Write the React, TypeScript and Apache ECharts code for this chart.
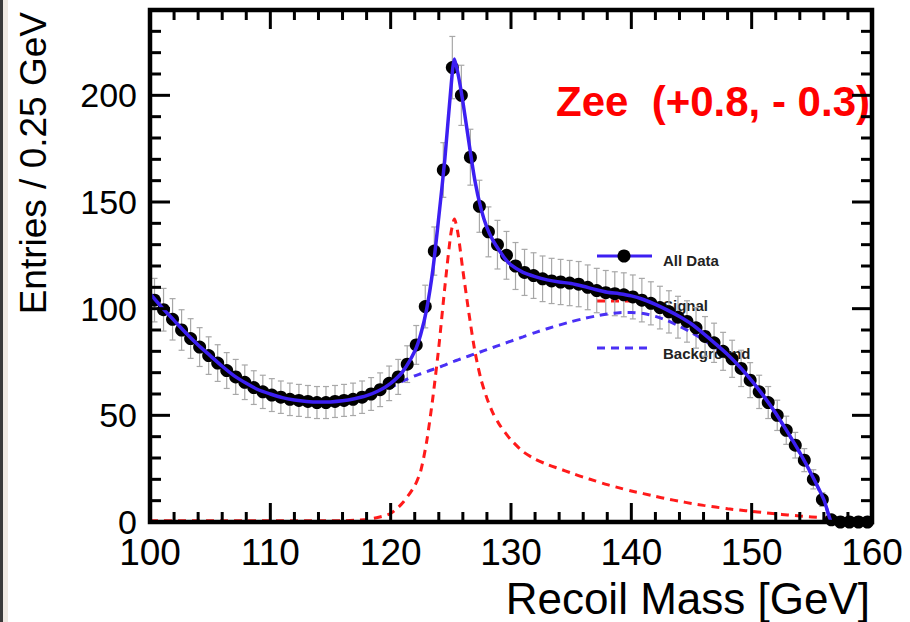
import React, { useEffect, useRef } from "react";
import * as echarts from "echarts";

// Histogram bin centres (GeV)
const binCenters = [
  100.375, 101.125, 101.875, 102.625, 103.375, 104.125, 104.875, 105.625, 106.375, 107.125,
  107.875, 108.625, 109.375, 110.125, 110.875, 111.625, 112.375, 113.125, 113.875, 114.625,
  115.375, 116.125, 116.875, 117.625, 118.375, 119.125, 119.875, 120.625, 121.375, 122.125,
  122.875, 123.625, 124.375, 125.125, 125.875, 126.625, 127.375, 128.125, 128.875, 129.625,
  130.375, 131.125, 131.875, 132.625, 133.375, 134.125, 134.875, 135.625, 136.375, 137.125,
  137.875, 138.625, 139.375, 140.125, 140.875, 141.625, 142.375, 143.125, 143.875, 144.625,
  145.375, 146.125, 146.875, 147.625, 148.375, 149.125, 149.875, 150.625, 151.375, 152.125,
  152.875, 153.625, 154.375, 155.125, 155.875, 156.625, 157.375, 158.125, 158.875, 159.625,
];

// "All Data" entries per bin
const entries = [
  104, 99.5, 95, 90, 86, 82, 78, 74.5, 71, 68,
  65.5, 63, 61, 59.5, 58.5, 57.5, 57, 56.5, 56, 56,
  56.5, 57, 57.5, 58.5, 60, 62, 65, 68, 74, 83,
  101, 127, 165, 213, 200, 171, 148, 136, 130, 125,
  120, 117, 115.5, 114, 113, 112.5, 112, 111.5, 110, 108.5,
  107.5, 107, 106.5, 105.5, 104, 102.5, 100.5, 98.5, 96, 94,
  91, 87, 84, 80, 76.5, 72, 66.5, 61, 56, 50,
  43, 36, 29, 20, 10.5, 1, 0, 0, 0, 0,
];

// statistical error per bin
const entryErrors = [
  10.2, 10.0, 9.7, 9.5, 9.3, 9.1, 8.8, 8.6, 8.4, 8.2,
  8.1, 7.9, 7.8, 7.7, 7.6, 7.6, 7.5, 7.5, 7.5, 7.5,
  7.5, 7.5, 7.6, 7.6, 7.7, 7.9, 8.1, 8.2, 8.6, 9.1,
  10.0, 11.3, 12.8, 14.6, 14.1, 13.1, 12.2, 11.7, 11.4, 11.2,
  11.0, 10.8, 10.7, 10.7, 10.6, 10.6, 10.6, 10.6, 10.5, 10.4,
  10.4, 10.3, 10.3, 10.3, 10.2, 10.1, 10.0, 9.9, 9.8, 9.7,
  9.5, 9.3, 9.2, 8.9, 8.7, 8.5, 8.2, 7.8, 7.5, 7.1,
  6.6, 6.0, 5.4, 4.5, 3.2, 1.0, 0, 0, 0, 0,
];

// fit curves sampled at these masses
const fitMass = [
  100, 101, 102, 103, 104, 105, 106, 107, 108, 109, 110, 111, 112, 113, 114, 115, 116, 117, 118, 119,
  120, 121, 122, 122.5, 123, 123.5, 124, 124.5, 125, 125.3, 125.6, 126, 126.5, 127, 127.5, 128, 128.5, 129, 129.5,
  130, 131, 132, 133, 134, 135, 136, 137, 138, 139, 140, 141, 142, 143, 144, 145, 146, 147, 148, 149,
  150, 151, 152, 153, 154, 155, 156, 156.7, 157,
];

const fitTotal = [
  107, 100.5, 94.5, 88.5, 83, 78, 73, 68.5, 65, 62, 60, 58.3, 57.2, 56.5, 56.2, 56.3, 56.8, 57.8, 59.2, 61.5,
  65, 70.5, 80, 88, 100, 118, 143, 170, 203, 217, 210, 197, 178, 160, 147, 138, 132, 127.5, 123.5,
  120.5, 117, 115, 113.5, 112.5, 111.8, 110.5, 109, 107.7, 107, 106, 104.3, 102, 99.3, 96.3, 92.8, 88.3, 83.5, 78.5, 72.8,
  66.3, 59, 51, 42, 32.5, 22, 10.5, 0, 0,
];

const fitSignal = [
  0.6, 0.6, 0.6, 0.6, 0.6, 0.6, 0.6, 0.6, 0.6, 0.6, 0.6, 0.6, 0.6, 0.6, 0.6, 0.6, 0.6, 0.8, 1.2, 2.2,
  4, 9, 17, 24, 38, 58, 82, 110, 135, 142, 135, 118, 98, 80, 67, 58, 51, 46, 42,
  38.5, 33, 29.5, 27, 25, 23, 21, 19.3, 17.5, 16, 14.5, 13.3, 12, 10.8, 9.7, 8.7, 7.8, 7, 6.2, 5.6,
  5, 4.4, 3.8, 3.3, 2.8, 2.4, 2, 1.7, 1.5,
];

const fitBackground = [
  106.4, 99.9, 93.9, 87.9, 82.4, 77.4, 72.4, 67.9, 64.4, 61.4, 59.4, 57.7, 56.6, 55.9, 55.6, 55.7, 56.2, 57, 58, 60.3,
  63, 66, 68.5, 69.5, 70.5, 71.5, 72.5, 73.5, 74.8, 75.4, 76, 76.8, 77.8, 78.8, 79.8, 80.8, 81.8, 82.8, 83.8,
  84.8, 86.8, 88.8, 90.6, 92.3, 93.9, 95.3, 96.5, 97.5, 98.1, 98.2, 97.7, 96.4, 94.4, 91.8, 88.8, 85.4, 81.5, 77, 71.8,
  65.6, 58.6, 50.7, 41.8, 32.3, 21.8, 10.3, 0, 0,
];

// axis tick positions
const xMajorTicks = [100, 110, 120, 130, 140, 150, 160];
const xMinorTicks = [102, 104, 106, 108, 112, 114, 116, 118, 122, 124, 126, 128, 132, 134, 136, 138, 142, 144, 146, 148, 152, 154, 156, 158];
const yMajorTicks = [0, 50, 100, 150, 200];
const yMinorTicks = [10, 20, 30, 40, 60, 70, 80, 90, 110, 120, 130, 140, 160, 170, 180, 190, 210, 220, 230];

const X_MIN = 100;
const X_MAX = 160;
const Y_MIN = 0;
const Y_MAX = 240;

const FONT = "Liberation Sans, Arial, sans-serif";
const INK = "#000000";
const BLUE = "#3c1ff2";
const RED = "#ff1a1a";
const BLUE_DASH = "#4a30f5";

// tick kinds: 0 x-major, 1 x-minor, 2 y-major, 3 y-minor
const TICK_LEN = [19, 10, 20, 11];

export default function App() {
  const ref = useRef<HTMLDivElement>(null);

  useEffect(() => {
    document.body.style.margin = "0";
    document.body.style.background = "#ffffff";
    if (!ref.current) return;
    const chart = echarts.init(ref.current, null, { renderer: "svg" });

    const pairs = (xs: number[], ys: number[]) => xs.map((x, i) => [x, ys[i]]);

    const xTickItems = [...xMajorTicks.map((v) => [v, 0]), ...xMinorTicks.map((v) => [v, 1])];
    const yTickItems = [...yMajorTicks.map((v) => [2, v]), ...yMinorTicks.map((v) => [3, v])];

    const tickLine = (x1: number, y1: number, x2: number, y2: number) => ({
      type: "line",
      shape: { x1, y1, x2, y2 },
      style: { stroke: INK, lineWidth: 3 },
    });

    const option: any = {
      animation: false,
      grid: { left: 150, right: 38, top: 10, bottom: 100, containLabel: false },
      xAxis: [
        {
          type: "value",
          min: X_MIN,
          max: X_MAX,
          interval: 10,
          position: "bottom",
          axisLine: { show: false },
          axisTick: { show: false },
          axisLabel: { show: true, fontSize: 37, lineHeight: 28, color: "#000", margin: 16, fontFamily: FONT },
          splitLine: { show: false },
        },
      ],
      yAxis: [
        {
          type: "value",
          min: Y_MIN,
          max: Y_MAX,
          interval: 50,
          position: "left",
          axisLine: { show: false },
          axisTick: { show: false },
          axisLabel: { show: true, fontSize: 34, lineHeight: 24, color: "#000", margin: 13, fontFamily: FONT, showMaxLabel: false },
          splitLine: { show: false },
        },
      ],
      graphic: [
        { type: "rect", shape: { x: 0, y: 0, width: 3, height: 622 }, style: { fill: "#3a3a3a" }, z: 0 },
        { type: "rect", shape: { x: 3, y: 0, width: 5, height: 622 }, style: { fill: "#efe9e2" }, z: 0 },
        {
          type: "text",
          x: 33,
          y: 12,
          rotation: Math.PI / 2,
          style: { text: "Entries / 0.25 GeV", fontSize: 37, fontFamily: FONT, fill: "#000", align: "right", verticalAlign: "middle" },
          z: 0,
        },
        {
          type: "text",
          x: 870,
          y: 598,
          style: { text: "Recoil Mass [GeV]", fontSize: 44, fontFamily: FONT, fill: "#000", align: "right", verticalAlign: "middle" },
          z: 0,
        },
        {
          type: "text",
          x: 556,
          y: 101,
          style: { text: "Zee  (+0.8, - 0.3)", fontSize: 42, fontWeight: "bold", fontFamily: FONT, fill: "#ff0000", align: "left", verticalAlign: "middle" },
          z: 0,
        },
        { type: "line", shape: { x1: 597, y1: 256, x2: 652, y2: 256 }, style: { stroke: BLUE, lineWidth: 3 }, z: 0 },
        { type: "circle", shape: { cx: 624, cy: 256, r: 6.5 }, style: { fill: "#000" }, z: 0 },
        { type: "text", x: 663, y: 260, style: { text: "All Data", fontSize: 15, fontWeight: "bold", fontFamily: FONT, fill: "#222", align: "left", verticalAlign: "middle" }, z: 0 },
        { type: "line", shape: { x1: 597, y1: 301, x2: 652, y2: 301 }, style: { stroke: RED, lineWidth: 3, lineDash: [8, 6] }, z: 0 },
        { type: "text", x: 663, y: 305, style: { text: "Signal", fontSize: 15, fontWeight: "bold", fontFamily: FONT, fill: "#222", align: "left", verticalAlign: "middle" }, z: 0 },
        { type: "line", shape: { x1: 597, y1: 348, x2: 652, y2: 348 }, style: { stroke: BLUE_DASH, lineWidth: 3, lineDash: [8, 6] }, z: 0 },
        { type: "text", x: 663, y: 353, style: { text: "Background", fontSize: 15, fontWeight: "bold", fontFamily: FONT, fill: "#222", align: "left", verticalAlign: "middle" }, z: 0 },
      ],
      series: [
        {
          name: "frame",
          type: "custom",
          xAxisIndex: 0,
          yAxisIndex: 0,
          z: 5,
          clip: false,
          silent: true,
          data: [[X_MIN, Y_MIN]],
          renderItem: (params: any, api: any) => {
            const p0 = api.coord([X_MIN, Y_MIN]);
            const p1 = api.coord([X_MAX, Y_MAX]);
            return {
              type: "rect",
              shape: { x: p0[0], y: p1[1], width: p1[0] - p0[0], height: p0[1] - p1[1] },
              style: { fill: "none", stroke: INK, lineWidth: 4.5 },
            };
          },
        },
        {
          name: "xTicks",
          type: "custom",
          xAxisIndex: 0,
          yAxisIndex: 0,
          z: 5,
          clip: false,
          silent: true,
          data: xTickItems,
          renderItem: (params: any, api: any) => {
            const v = Number(api.value(0));
            const kind = Number(api.value(1));
            const len = TICK_LEN[kind] ?? 10;
            const b = api.coord([v, Y_MIN]);
            const t = api.coord([v, Y_MAX]);
            return {
              type: "group",
              children: [tickLine(b[0], b[1], b[0], b[1] - len), tickLine(t[0], t[1], t[0], t[1] + len)],
            };
          },
        },
        {
          name: "yTicks",
          type: "custom",
          xAxisIndex: 0,
          yAxisIndex: 0,
          z: 5,
          clip: false,
          silent: true,
          data: yTickItems,
          renderItem: (params: any, api: any) => {
            const kind = Number(api.value(0));
            const v = Number(api.value(1));
            const len = TICK_LEN[kind] ?? 10;
            const l = api.coord([X_MIN, v]);
            const r = api.coord([X_MAX, v]);
            return {
              type: "group",
              children: [tickLine(l[0], l[1], l[0] + len, l[1]), tickLine(r[0], r[1], r[0] - len, r[1])],
            };
          },
        },
        {
          name: "errors",
          type: "custom",
          xAxisIndex: 0,
          yAxisIndex: 0,
          z: 1,
          encode: { x: 0, y: [1, 2] },
          data: binCenters.map((x, i) => [x, entries[i] - entryErrors[i], entries[i] + entryErrors[i]]),
          renderItem: (params: any, api: any) => {
            const x = api.value(0);
            const lo = api.coord([x, api.value(1)]);
            const hi = api.coord([x, api.value(2)]);
            if (Math.abs(hi[1] - lo[1]) < 0.5) return null;
            const st = { stroke: "#a8a8a8", lineWidth: 1.2 };
            return {
              type: "group",
              children: [
                { type: "line", shape: { x1: lo[0], y1: lo[1], x2: hi[0], y2: hi[1] }, style: st },
                { type: "line", shape: { x1: lo[0] - 3, y1: lo[1], x2: lo[0] + 3, y2: lo[1] }, style: st },
                { type: "line", shape: { x1: hi[0] - 3, y1: hi[1], x2: hi[0] + 3, y2: hi[1] }, style: st },
              ],
            };
          },
        },
        {
          name: "Background",
          type: "line",
          z: 2,
          data: pairs(fitMass, fitBackground),
          showSymbol: false,
          smooth: 0.25,
          lineStyle: { color: BLUE_DASH, width: 3, type: [8, 6] },
        },
        {
          name: "Signal",
          type: "line",
          z: 2,
          data: pairs(fitMass, fitSignal),
          showSymbol: false,
          smooth: 0.25,
          lineStyle: { color: RED, width: 3, type: [8, 6] },
        },
        {
          name: "All Data",
          type: "scatter",
          z: 3,
          data: pairs(binCenters, entries),
          symbolSize: 13,
          itemStyle: { color: "#000", opacity: 1 },
        },
        {
          name: "Fit",
          type: "line",
          z: 4,
          data: pairs(fitMass, fitTotal),
          showSymbol: false,
          smooth: 0.25,
          lineStyle: { color: BLUE, width: 3.5 },
        },
      ],
    };

    chart.setOption(option);
    return () => chart.dispose();
  }, []);

  return <div ref={ref} style={{ width: 910, height: 622 }} />;
}
